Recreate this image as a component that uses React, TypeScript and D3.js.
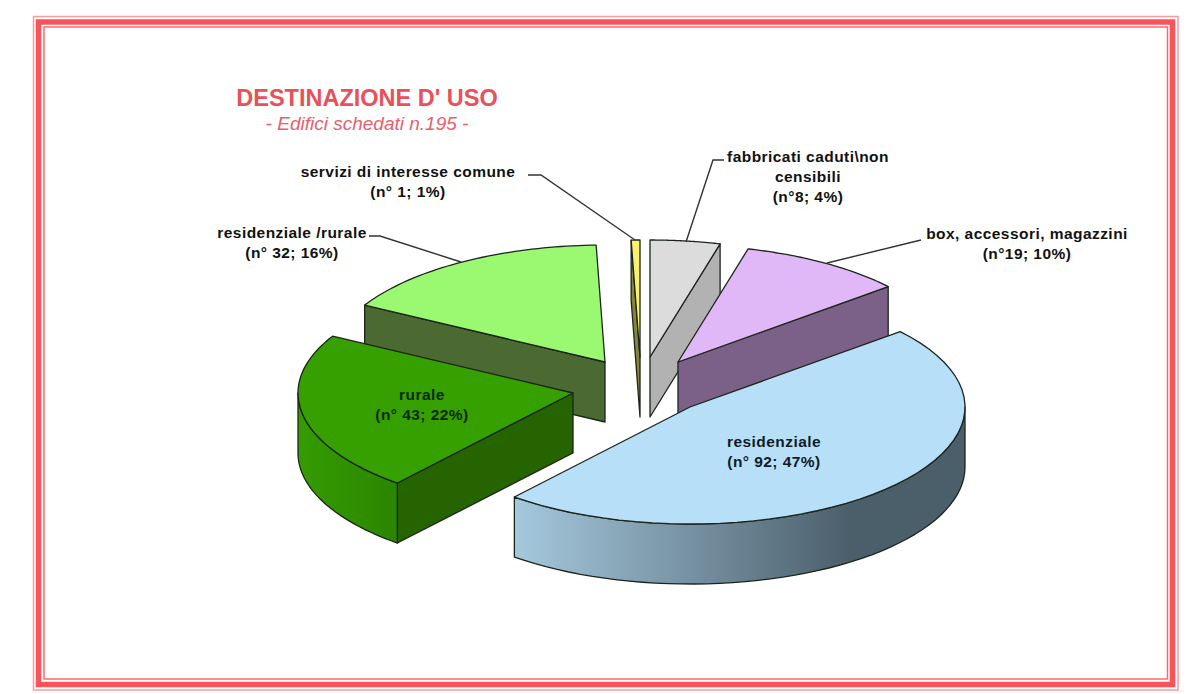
import * as d3 from "d3";

// chart values, clockwise from 12 o'clock
const categories = [
  "fabbricati caduti\\non censibili",
  "box, accessori, magazzini",
  "residenziale",
  "rurale",
  "residenziale /rurale",
  "servizi di interesse comune",
];
const counts = [8, 19, 92, 43, 32, 1];

const title = "DESTINAZIONE D' USO";
const subtitle = "- Edifici schedati n.195 -";

// colours: top face, radial face, rim from / rim to
const topColors = ["#dcdcdc", "#e0b8f8", "#b7e0f8", "#36a000", "#9bf871", "#f8f070"];
const sideColors = ["#b2b2b2", "#7b6088", "#7c97a8", "#256400", "#4a6a32", "#85853a"];
const rimFrom = ["#b2b2b2", "#7b6088", "#a6c9de", "#349c02", "#4a6a32", "#85853a"];
const rimTo = ["#b2b2b2", "#7b6088", "#4b5f6b", "#2b8500", "#4a6a32", "#85853a"];

// where each exploded slice has its apex
const apexX = [650, 678, 690, 573, 605, 640];
const apexY = [357, 362, 407, 393, 362, 357];
const drawOrder = [5, 0, 4, 1, 3, 2];

const RX = 275;
const RY = 117;
const DEPTH = 60;
const LINE = "#1c241c";
const FONT = "'Liberation Sans', Arial, sans-serif";

const pie = d3.pie<number>().sort(null).startAngle(0).endAngle(2 * Math.PI);
const arcs = pie(counts);
const toPath = d3.line();

function point(i: number, t: number, drop = 0): [number, number] {
  return [apexX[i] + RX * Math.sin(t), apexY[i] - RY * Math.cos(t) + drop];
}

function rimPoints(i: number, a: number, b: number, drop = 0) {
  const n = 48;
  return d3.range(n + 1).map((k) => point(i, a + ((b - a) * k) / n, drop));
}

function topFace(i: number) {
  const { startAngle, endAngle } = arcs[i];
  return toPath([[apexX[i], apexY[i]], ...rimPoints(i, startAngle, endAngle)]) + "Z";
}

function radialFace(i: number, t: number) {
  const apex: [number, number] = [apexX[i], apexY[i]];
  const apexLow: [number, number] = [apexX[i], apexY[i] + DEPTH];
  return toPath([apex, point(i, t), point(i, t, DEPTH), apexLow]) + "Z";
}

// only the part of the rim that faces the viewer
function rimFace(i: number) {
  const a = Math.max(arcs[i].startAngle, Math.PI / 2);
  const b = Math.min(arcs[i].endAngle, (3 * Math.PI) / 2);
  if (b <= a) return null;
  return toPath([...rimPoints(i, a, b), ...rimPoints(i, b, a, DEPTH)]) + "Z";
}

type LabelProps = { x: number; y: number; lines: string[]; fill?: string };

const Label = ({ x, y, lines, fill = "#111" }: LabelProps) => (
  <text x={x} y={y} textAnchor="middle" fontFamily={FONT} fontWeight="bold" fontSize={15.5} fill={fill} letterSpacing={0.45}>
    {lines.map((s, k) => (
      <tspan key={k} x={x} dy={k === 0 ? 0 : 20}>
        {s}
      </tspan>
    ))}
  </text>
);

const Leader = ({ pts }: { pts: [number, number][] }) => (
  <path d={toPath(pts) ?? ""} fill="none" stroke="#333" strokeWidth={1.4} />
);

export default function App() {
  return (
    <svg width={1200} height={694} style={{ position: "absolute", left: 0, top: 0, background: "#fff" }}>
      <defs>
        {arcs.map((d, i) => (
          <linearGradient
            key={i}
            id={`rim-${i}`}
            gradientUnits="userSpaceOnUse"
            x1={i === 2 ? 513 : apexX[i] - RX}
            x2={i === 2 ? 850 : apexX[i] - RX + 100}
            y1={0}
            y2={0}
          >
            <stop offset="0%" stopColor={rimFrom[i]} />
            <stop offset="100%" stopColor={rimTo[i]} />
          </linearGradient>
        ))}
      </defs>

      {/* frame */}
      <g fill="none">
        <rect x={33.5} y={16.5} width={1144.5} height={673.5} stroke="#fb9a9e" strokeWidth={1.5} />
        <rect x={38.5} y={22} width={1134} height={662.5} stroke="#f9545a" strokeWidth={5.5} />
        <rect x={44} y={27} width={1123.5} height={652} stroke="#f96a70" strokeWidth={1.5} />
      </g>

      <text x={367} y={106} textAnchor="middle" fontFamily={FONT} fontWeight="bold" fontSize={23.5} fill="#e8505a">
        {title}
      </text>
      <text x={367} y={129.5} textAnchor="middle" fontFamily={FONT} fontStyle="italic" fontSize={19} fill="#e8606a">
        {subtitle}
      </text>

      {drawOrder.map((i) => {
        const { startAngle, endAngle } = arcs[i];
        const rim = rimFace(i);
        return (
          <g key={categories[i]} stroke={LINE} strokeWidth={1.3} strokeLinejoin="round">
            {/* a cut face shows only when it turns towards the viewer */}
            {Math.sin(endAngle) > 1e-6 && <path d={radialFace(i, endAngle) ?? ""} fill={sideColors[i]} />}
            {Math.sin(startAngle) < -1e-6 && <path d={radialFace(i, startAngle) ?? ""} fill={sideColors[i]} />}
            {rim && <path d={rim} fill={`url(#rim-${i})`} />}
            <path d={topFace(i) ?? ""} fill={topColors[i]} />
          </g>
        );
      })}

      <Leader pts={[[528, 175], [541, 175], [635, 240]]} />
      <Leader pts={[[724, 160], [713, 160], [686, 242]]} />
      <Leader pts={[[921, 240], [827, 263]]} />
      <Leader pts={[[369, 236], [380, 236], [461, 262]]} />

      <Label x={408} y={176.5} lines={["servizi di interesse comune", `(n° ${counts[5]}; 1%)`]} />
      <Label x={808} y={161.5} lines={["fabbricati caduti\\non", "censibili", `(n°${counts[0]}; 4%)`]} />
      <Label x={1027} y={238.5} lines={["box, accessori, magazzini", `(n°${counts[1]}; 10%)`]} />
      <Label x={292} y={237.5} lines={["residenziale /rurale", `(n° ${counts[4]}; 16%)`]} />
      <Label x={422} y={399.5} lines={["rurale", `(n° ${counts[3]}; 22%)`]} fill="#0d2a05" />
      <Label x={774} y={446.5} lines={["residenziale", `(n° ${counts[2]}; 47%)`]} fill="#101c28" />
    </svg>
  );
}
